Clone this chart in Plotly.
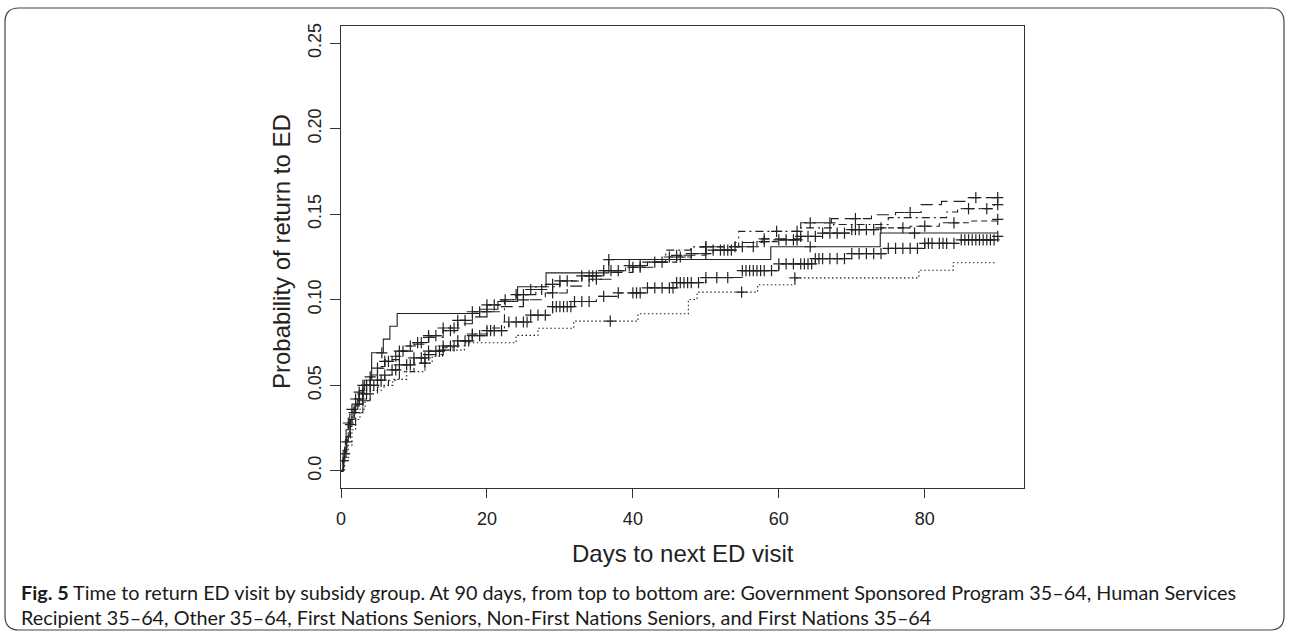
import numpy as np
import plotly.graph_objects as go

W, H = 1290, 634
ML, MR, MT, MB = 341, 266, 26, 146
PW, PH = W - ML - MR, H - MT - MB

# ---------------- data ----------------
x_ticks = [0, 20, 40, 60, 80]
y_ticks = [0.0, 0.05, 0.10, 0.15, 0.20, 0.25]
y_tick_text = ["0.0", "0.05", "0.10", "0.15", "0.20", "0.25"]

gsp_days = [0, 0.3, 0.7, 1.2, 2, 3, 4, 5, 6, 8, 10, 12, 14, 16, 18, 20, 22, 25, 28, 31, 34, 37,
            40, 43, 46, 50, 54, 57.7, 63, 67.2, 72.7, 76, 79.5, 82.3, 85.5, 90]
gsp_prob = [0, 0.012, 0.024, 0.033, 0.042, 0.050, 0.056, 0.061, 0.065, 0.070, 0.074, 0.078, 0.082,
            0.086, 0.090, 0.093, 0.096, 0.100, 0.104, 0.108, 0.112, 0.116, 0.119, 0.122, 0.126,
            0.131, 0.1335, 0.1356, 0.145, 0.1474, 0.1497, 0.151, 0.1556, 0.1575, 0.1597, 0.1597]
gsp_cens = [2.5, 3.5, 8, 12, 15, 20, 25, 29, 35, 41, 46, 50, 58, 64.3, 67, 70.5, 78, 87, 90]

hsr_days = [0, 0.4, 0.8, 1.3, 2, 3, 4, 5, 6.5, 8, 10, 12, 14, 16, 18, 20, 22.4, 24, 26.7, 30, 33,
            36, 39, 41, 44.5, 47.9, 54.5, 63, 67.5, 75, 83, 84.5, 89.5, 90]
hsr_prob = [0, 0.008, 0.018, 0.026, 0.034, 0.041, 0.045, 0.049, 0.053, 0.058, 0.063, 0.068, 0.072,
            0.076, 0.080, 0.0835, 0.100, 0.103, 0.1076, 0.111, 0.114, 0.117, 0.119, 0.122, 0.129,
            0.1309, 0.140, 0.142, 0.144, 0.148, 0.1513, 0.1533, 0.1556, 0.1556]
hsr_cens = [3, 12, 18, 30, 40, 50, 59.7, 62.5, 86, 88.5, 90]

oth_days = [0, 0.3, 0.6, 1, 1.5, 2, 2.5, 3, 4, 5, 6, 7, 8, 9, 10, 12, 14, 16, 18, 20, 22, 24, 26,
            28, 30, 33, 36, 39, 42, 45, 48, 51, 54, 57, 60, 63, 66, 70, 74, 78, 82, 86, 90]
oth_prob = [0, 0.010, 0.019, 0.028, 0.036, 0.042, 0.046, 0.050, 0.055, 0.060, 0.064, 0.067, 0.070,
            0.073, 0.075, 0.079, 0.0835, 0.088, 0.093, 0.097, 0.100, 0.103, 0.106, 0.109, 0.111,
            0.114, 0.117, 0.120, 0.122, 0.125, 0.127, 0.129, 0.131, 0.134, 0.135, 0.137, 0.139,
            0.141, 0.142, 0.143, 0.145, 0.146, 0.147]
oth_cens = [0.5, 1, 1.5, 2, 2.5, 3, 3.5, 4, 5, 6, 6.5, 7.5, 8.5, 9.5, 10.5, 11, 12, 13, 14, 15.5,
            16, 17, 18, 19, 20, 21, 22.5, 24, 25, 26, 27.5, 29, 31, 33, 34, 34.5, 35, 36, 37, 38,
            39.5, 41, 43, 44, 45, 46.5, 48, 50, 51, 52, 52.5, 53, 53.5, 54, 55, 56.5, 58, 60, 61,
            62, 62.5, 63, 64, 65, 66, 67, 68, 69, 70, 70.5, 71, 72, 73, 74, 77, 80, 84, 90]

fns_days = [0, 0.3, 0.7, 1.2, 1.8, 2.5, 3.2, 4.2, 5.8, 6.7, 7.7, 19, 21.5, 24.2, 28.1, 36.7,
            58.9, 73.9, 90]
fns_prob = [0, 0.008, 0.020, 0.030, 0.038, 0.047, 0.053, 0.069, 0.077, 0.0845, 0.092, 0.0945,
            0.099, 0.1076, 0.1157, 0.1235, 0.131, 0.139, 0.139]
fns_cens = [5.6, 36.7, 64.3, 78.6]

nfn_days = [0, 0.2, 0.5, 1, 1.5, 2, 3, 4, 5, 6, 7, 8, 10, 12, 14, 16, 18, 20, 23, 26, 29, 32, 35,
            38, 42, 46, 50, 55, 60, 65, 70, 75, 80, 85, 90]
nfn_prob = [0, 0.006, 0.017, 0.027, 0.034, 0.039, 0.045, 0.050, 0.053, 0.056, 0.059, 0.062, 0.066,
            0.070, 0.073, 0.076, 0.079, 0.082, 0.087, 0.091, 0.096, 0.099, 0.102, 0.104, 0.107,
            0.110, 0.113, 0.117, 0.121, 0.124, 0.127, 0.130, 0.133, 0.135, 0.137]
nfn_cens = [0.3, 0.8, 1.3, 1.8, 2.3, 3, 3.5, 4, 4.5, 5, 5.5, 6, 7, 7.5, 8, 9, 9.5, 10, 11, 11.5,
            12, 13, 13.5, 14, 15, 15.5, 16, 17, 17.5, 18, 19, 20, 20.5, 21, 22, 23, 24, 25, 25.5,
            26, 27, 28, 29, 29.5, 30, 30.5, 31, 31.5, 32, 33, 34, 36, 38, 40, 40.5, 41, 42, 43,
            44, 45, 45.5, 46, 46.5, 47, 47.5, 48, 49, 50, 51.5, 53, 55, 55.5, 56, 56.5, 57, 57.5,
            58, 59, 60, 61, 62, 63, 63.5, 64, 64.5, 65, 65.5, 66, 67, 68, 69, 70, 71, 72, 73, 74,
            75, 76, 77, 78, 79, 80, 80.5, 81, 82, 82.5, 83, 84, 85, 85.5, 86, 86.5, 87, 87.5, 88,
            88.5, 89, 89.5, 90]

fn3_days = [0, 0.5, 1, 1.5, 2, 2.6, 3.3, 4, 5.5, 7.1, 9, 11.5, 12.5, 13.9, 16.9, 24, 27, 31.9,
            40.7, 47.6, 48.8, 57.1, 62.2, 79.2, 83.9, 89.8]
fn3_prob = [0, 0.006, 0.015, 0.024, 0.030, 0.036, 0.042, 0.047, 0.050, 0.0535, 0.058, 0.063, 0.067,
            0.0706, 0.0749, 0.0792, 0.0834, 0.0875, 0.0918, 0.1002, 0.1045, 0.1088, 0.1128, 0.1173,
            0.1216, 0.1216]
fn3_cens = [11.5, 14, 36.9, 54.9, 62.2]

groups = [
    ("Government Sponsored Program 35–64", gsp_days, gsp_prob, gsp_cens, "12px,6px"),
    ("Human Services Recipient 35–64", hsr_days, hsr_prob, hsr_cens, "2px,4px,8px,4px"),
    ("Other 35–64", oth_days, oth_prob, oth_cens, "6px,4px"),
    ("First Nations Seniors", fns_days, fns_prob, fns_cens, "solid"),
    ("Non-First Nations Seniors", nfn_days, nfn_prob, nfn_cens, "4px,5px,10px,5px"),
    ("First Nations 35–64", fn3_days, fn3_prob, fn3_cens, "1.5px,2.5px"),
]

INK = "#222222"
AX = "#333333"
FONT = "Liberation Sans, Arial, sans-serif"


def step_value(days, probs, t):
    d = np.asarray(days, dtype=float)
    p = np.asarray(probs, dtype=float)
    idx = np.searchsorted(d, np.asarray(t, dtype=float), side="right") - 1
    return p[np.clip(idx, 0, len(p) - 1)]


fig = go.Figure()
for name, d, p, c, dash in groups:
    fig.add_trace(go.Scatter(x=d, y=p, mode="lines", name=name, line_shape="hv",
                             line=dict(color=INK, width=1.1, dash=dash), showlegend=False,
                             hoverinfo="skip"))
    fig.add_trace(go.Scatter(x=c, y=step_value(d, p, c), mode="markers", name=name,
                             marker=dict(symbol="cross-thin", size=8,
                                         line=dict(color=INK, width=1.2)),
                             showlegend=False))


def px_x(px):
    return (px - ML) / PW


def px_y(py):
    return (H - MB - py) / PH


fig.update_xaxes(range=[0, 93.6], tickmode="array", tickvals=x_ticks,
                 ticktext=[str(v) for v in x_ticks], ticks="outside", ticklen=9,
                 tickcolor=AX, tickwidth=1, showline=True, linecolor=AX, linewidth=1,
                 mirror=True, showgrid=False, zeroline=False, ticklabelstandoff=5,
                 tickfont=dict(family=FONT, size=18, color=INK))
fig.update_yaxes(range=[-0.01, 0.26], tickmode="array", tickvals=y_ticks,
                 ticktext=y_tick_text, ticks="outside", ticklen=10, tickcolor=AX,
                 tickwidth=1, showline=True, linecolor=AX, linewidth=1, mirror=True,
                 showgrid=False, zeroline=False, tickangle=-90, ticklabelstandoff=2,
                 tickfont=dict(family=FONT, size=18, color=INK))

CAP_FONT = dict(family="Lato", size=19.8, color="#1a1a1a")
annotations = [
    dict(text="Probability of return to ED", x=px_x(281), y=px_y(252), xref="paper",
         yref="paper", textangle=-90, showarrow=False, xanchor="center", yanchor="middle",
         font=dict(family=FONT, size=24, color=INK)),
    dict(text="Days to next ED visit", x=px_x(683), y=px_y(553), xref="paper", yref="paper",
         showarrow=False, xanchor="center", yanchor="middle",
         font=dict(family=FONT, size=24, color=INK)),
    dict(text="<b>Fig. 5</b> Time to return ED visit by subsidy group. At 90 days, from top to "
              "bottom are: Government Sponsored Program 35–64, Human Services",
         x=px_x(19), y=px_y(592), xref="paper", yref="paper", showarrow=False,
         xanchor="left", yanchor="middle", font=CAP_FONT),
    dict(text="Recipient 35–64, Other 35–64, First Nations Seniors, Non-First Nations Seniors, "
              "and First Nations 35–64",
         x=px_x(19), y=px_y(617), xref="paper", yref="paper", showarrow=False,
         xanchor="left", yanchor="middle", font=CAP_FONT),
]

# rounded outer frame of the figure panel
x0, y0, x1, y1, r = 5, 8, 1284, 630, 14
pts = dict(
    a=(px_x(x0 + r), px_y(y0)), b=(px_x(x1 - r), px_y(y0)), c=(px_x(x1), px_y(y0)),
    d=(px_x(x1), px_y(y0 + r)), e=(px_x(x1), px_y(y1 - r)), f=(px_x(x1), px_y(y1)),
    g=(px_x(x1 - r), px_y(y1)), h=(px_x(x0 + r), px_y(y1)), i=(px_x(x0), px_y(y1)),
    j=(px_x(x0), px_y(y1 - r)), k=(px_x(x0), px_y(y0 + r)), l=(px_x(x0), px_y(y0)),
)
f = lambda k: f"{pts[k][0]:.5f},{pts[k][1]:.5f}"
path = (f"M {f('a')} L {f('b')} Q {f('c')} {f('d')} L {f('e')} Q {f('f')} {f('g')} "
        f"L {f('h')} Q {f('i')} {f('j')} L {f('k')} Q {f('l')} {f('a')} Z")

fig.update_layout(
    width=W, height=H, margin=dict(l=ML, r=MR, t=MT, b=MB),
    paper_bgcolor="white", plot_bgcolor="white", showlegend=False,
    annotations=annotations,
    shapes=[dict(type="path", path=path, xref="paper", yref="paper",
                 line=dict(color="#444444", width=1.2), layer="below")],
)

fig.write_html("out.html")
